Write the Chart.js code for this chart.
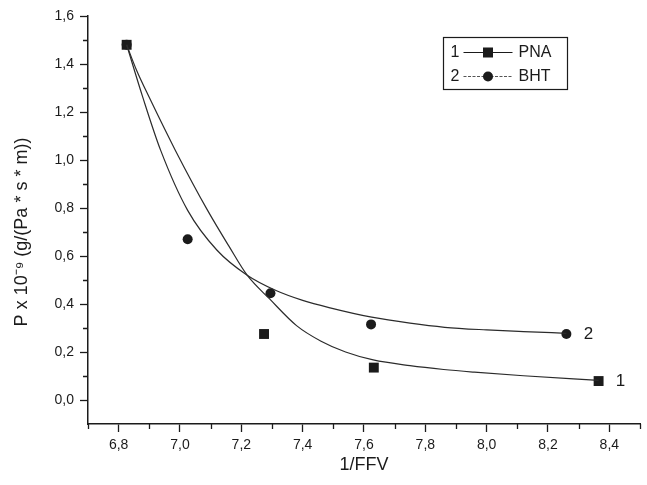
<!DOCTYPE html>
<html>
<head>
<meta charset="utf-8">
<script src="https://cdn.jsdelivr.net/npm/chart.js@4/dist/chart.umd.min.js"></script>
<style>
  html, body { margin: 0; padding: 0; background: #fff; }
  canvas { display: block; }
</style>
</head>
<body>
<canvas id="c" width="647" height="485"></canvas>
<script>
// Measured permeability vs 1/FFV for two films
const seriesNames = ['PNA', 'BHT'];
const curveIds = ['1', '2'];
const yTitle = 'P x 10\u207B\u2079 (g/(Pa * s * m))';
const xTitle = '1/FFV';

const pnaX = [6.826, 7.274, 7.632, 8.365];
const pnaY = [1.48, 0.275, 0.135, 0.079];

const bhtX = [6.826, 7.025, 7.295, 7.623, 8.26];
const bhtY = [1.48, 0.67, 0.445, 0.315, 0.275];

// Fitted trend curves, sampled along each curve
const pnaFitX = [6.826, 6.858, 6.90, 6.985, 7.09, 7.16, 7.219, 7.293, 7.38, 7.46, 7.54, 7.63, 7.75, 7.86, 7.96, 8.12, 8.365];
const pnaFitY = [1.48, 1.375, 1.26, 1.04, 0.79, 0.64, 0.52, 0.42, 0.31, 0.245, 0.20, 0.167, 0.143, 0.127, 0.116, 0.101, 0.082];

const bhtFitX = [6.826, 6.878, 6.937, 7.025, 7.12, 7.219, 7.315, 7.40, 7.486, 7.625, 7.75, 7.863, 8.0, 8.12, 8.26];
const bhtFitY = [1.48, 1.264, 1.04, 0.79, 0.625, 0.52, 0.455, 0.415, 0.385, 0.345, 0.32, 0.303, 0.292, 0.285, 0.278];

const xTicks = [6.8, 7.0, 7.2, 7.4, 7.6, 7.8, 8.0, 8.2, 8.4];
const xMinor = [6.7, 6.9, 7.1, 7.3, 7.5, 7.7, 7.9, 8.1, 8.3, 8.5];
const yTicks = [0.0, 0.2, 0.4, 0.6, 0.8, 1.0, 1.2, 1.4, 1.6];
const yMinor = [0.1, 0.3, 0.5, 0.7, 0.9, 1.1, 1.3, 1.5];

const INK = '#1b1b1b';
const FONT = '"Liberation Sans", Arial, sans-serif';

const toPts = (xs, ys) => xs.map((x, i) => ({ x: x, y: ys[i] }));
const fmt = v => Number(v).toFixed(1).replace('.', ',');

// Short minor ticks on both axes
const minorTicks = {
  id: 'minorTicks',
  afterDraw(chart) {
    const ctx = chart.ctx;
    const xs = chart.scales.x, ys = chart.scales.y;
    ctx.save();
    ctx.strokeStyle = INK;
    ctx.lineWidth = 1.3;
    ctx.beginPath();
    xMinor.forEach(v => {
      const px = Math.min(Math.round(xs.getPixelForValue(v)) + 0.5, chart.width - 1);
      ctx.moveTo(px, xs.top);
      ctx.lineTo(px, xs.top + 5);
    });
    yMinor.forEach(v => {
      const py = Math.round(ys.getPixelForValue(v)) + 0.5;
      ctx.moveTo(ys.right, py);
      ctx.lineTo(ys.right - 5, py);
    });
    ctx.stroke();
    ctx.restore();
  }
};

// Vertical axis title, set slightly below the axis midpoint
const sideTitle = {
  id: 'sideTitle',
  afterDraw(chart) {
    const ctx = chart.ctx;
    const area = chart.chartArea;
    ctx.save();
    ctx.translate(22, (area.top + area.bottom) / 2 + 12);
    ctx.rotate(-Math.PI / 2);
    ctx.fillStyle = INK;
    ctx.font = '18px ' + FONT;
    ctx.textAlign = 'center';
    ctx.textBaseline = 'middle';
    ctx.fillText(yTitle, 0, 0);
    ctx.restore();
  }
};

// Boxed key and curve numbers at the end of each fit
const keyAndLabels = {
  id: 'keyAndLabels',
  afterDraw(chart) {
    const ctx = chart.ctx;
    const xs = chart.scales.x, ys = chart.scales.y;
    ctx.save();

    // curve numbers
    ctx.fillStyle = INK;
    ctx.font = '17px ' + FONT;
    ctx.textBaseline = 'middle';
    ctx.textAlign = 'center';
    const ends = [[pnaX, pnaY], [bhtX, bhtY]];
    ends.forEach((e, i) => {
      const n = e[0].length - 1;
      ctx.fillText(curveIds[i], xs.getPixelForValue(e[0][n]) + 22, ys.getPixelForValue(e[1][n]));
    });

    // key box
    const bx = 443.5, by = 37.5, bw = 124, bh = 52;
    ctx.strokeStyle = INK;
    ctx.lineWidth = 1.2;
    ctx.strokeRect(bx, by, bw, bh);

    const rows = [by + 15, by + 39];
    ctx.font = '16px ' + FONT;
    ctx.textAlign = 'left';
    rows.forEach((ry, i) => {
      ctx.fillStyle = INK;
      ctx.fillText(curveIds[i], bx + 7, ry);
      ctx.strokeStyle = i === 0 ? INK : '#555';
      ctx.lineWidth = 1.2;
      ctx.setLineDash(i === 0 ? [] : [3, 1.5]);
      ctx.beginPath();
      ctx.moveTo(bx + 20, ry);
      ctx.lineTo(bx + 69, ry);
      ctx.stroke();
      ctx.setLineDash([]);
      ctx.fillStyle = INK;
      const mx = bx + 44.5;
      if (i === 0) {
        ctx.fillRect(mx - 5, ry - 5, 10, 10);
      } else {
        ctx.beginPath();
        ctx.arc(mx, ry, 5, 0, Math.PI * 2);
        ctx.fill();
      }
      ctx.fillText(seriesNames[i], bx + 75, ry + 0.5);
    });
    ctx.restore();
  }
};

new Chart(document.getElementById('c'), {
  type: 'scatter',
  data: {
    datasets: [
      {
        label: seriesNames[1] + ' fit',
        data: toPts(bhtFitX, bhtFitY),
        showLine: true,
        pointRadius: 0,
        borderColor: '#2b2b2b',
        borderWidth: 1.2,
        cubicInterpolationMode: 'monotone'
      },
      {
        label: seriesNames[0] + ' fit',
        data: toPts(pnaFitX, pnaFitY),
        showLine: true,
        pointRadius: 0,
        borderColor: '#2b2b2b',
        borderWidth: 1.2,
        cubicInterpolationMode: 'monotone'
      },
      {
        label: seriesNames[1],
        data: toPts(bhtX, bhtY),
        showLine: false,
        pointStyle: 'circle',
        pointRadius: 5,
        pointBackgroundColor: INK,
        pointBorderColor: INK,
        pointBorderWidth: 0
      },
      {
        label: seriesNames[0],
        data: toPts(pnaX, pnaY),
        showLine: false,
        pointStyle: 'rect',
        pointRadius: 7,
        pointBackgroundColor: INK,
        pointBorderColor: INK,
        pointBorderWidth: 0
      }
    ]
  },
  options: {
    responsive: false,
    animation: false,
    layout: { padding: { top: 16, right: 0, left: 0, bottom: 0 } },
    plugins: {
      legend: { display: false },
      tooltip: { enabled: false }
    },
    scales: {
      x: {
        type: 'linear',
        min: 6.7,
        max: 8.5,
        afterBuildTicks: s => { s.ticks = xTicks.map(v => ({ value: v })); },
        afterFit: s => { s.height = 61; },
        ticks: {
          callback: v => fmt(v),
          color: INK,
          font: { family: FONT, size: 14 },
          padding: 5,
          maxRotation: 0,
          autoSkip: false
        },
        grid: {
          drawOnChartArea: false,
          drawTicks: true,
          tickLength: 8,
          tickColor: INK,
          tickWidth: 1.3
        },
        border: { color: INK, width: 1.5 },
        title: {
          display: true,
          text: xTitle,
          color: INK,
          font: { family: FONT, size: 18 },
          padding: { top: 0, bottom: 9 }
        }
      },
      y: {
        type: 'linear',
        min: -0.1,
        max: 1.6,
        afterBuildTicks: s => { s.ticks = yTicks.map(v => ({ value: v })); },
        afterFit: s => { s.width = 88; },
        ticks: {
          callback: v => fmt(v),
          color: INK,
          font: { family: FONT, size: 14 },
          padding: 6,
          autoSkip: false
        },
        grid: {
          drawOnChartArea: false,
          drawTicks: true,
          tickLength: 8,
          tickColor: INK,
          tickWidth: 1.3
        },
        border: { color: INK, width: 1.5 },
        title: { display: false }
      }
    }
  },
  plugins: [minorTicks, sideTitle, keyAndLabels]
});
</script>
</body>
</html>
